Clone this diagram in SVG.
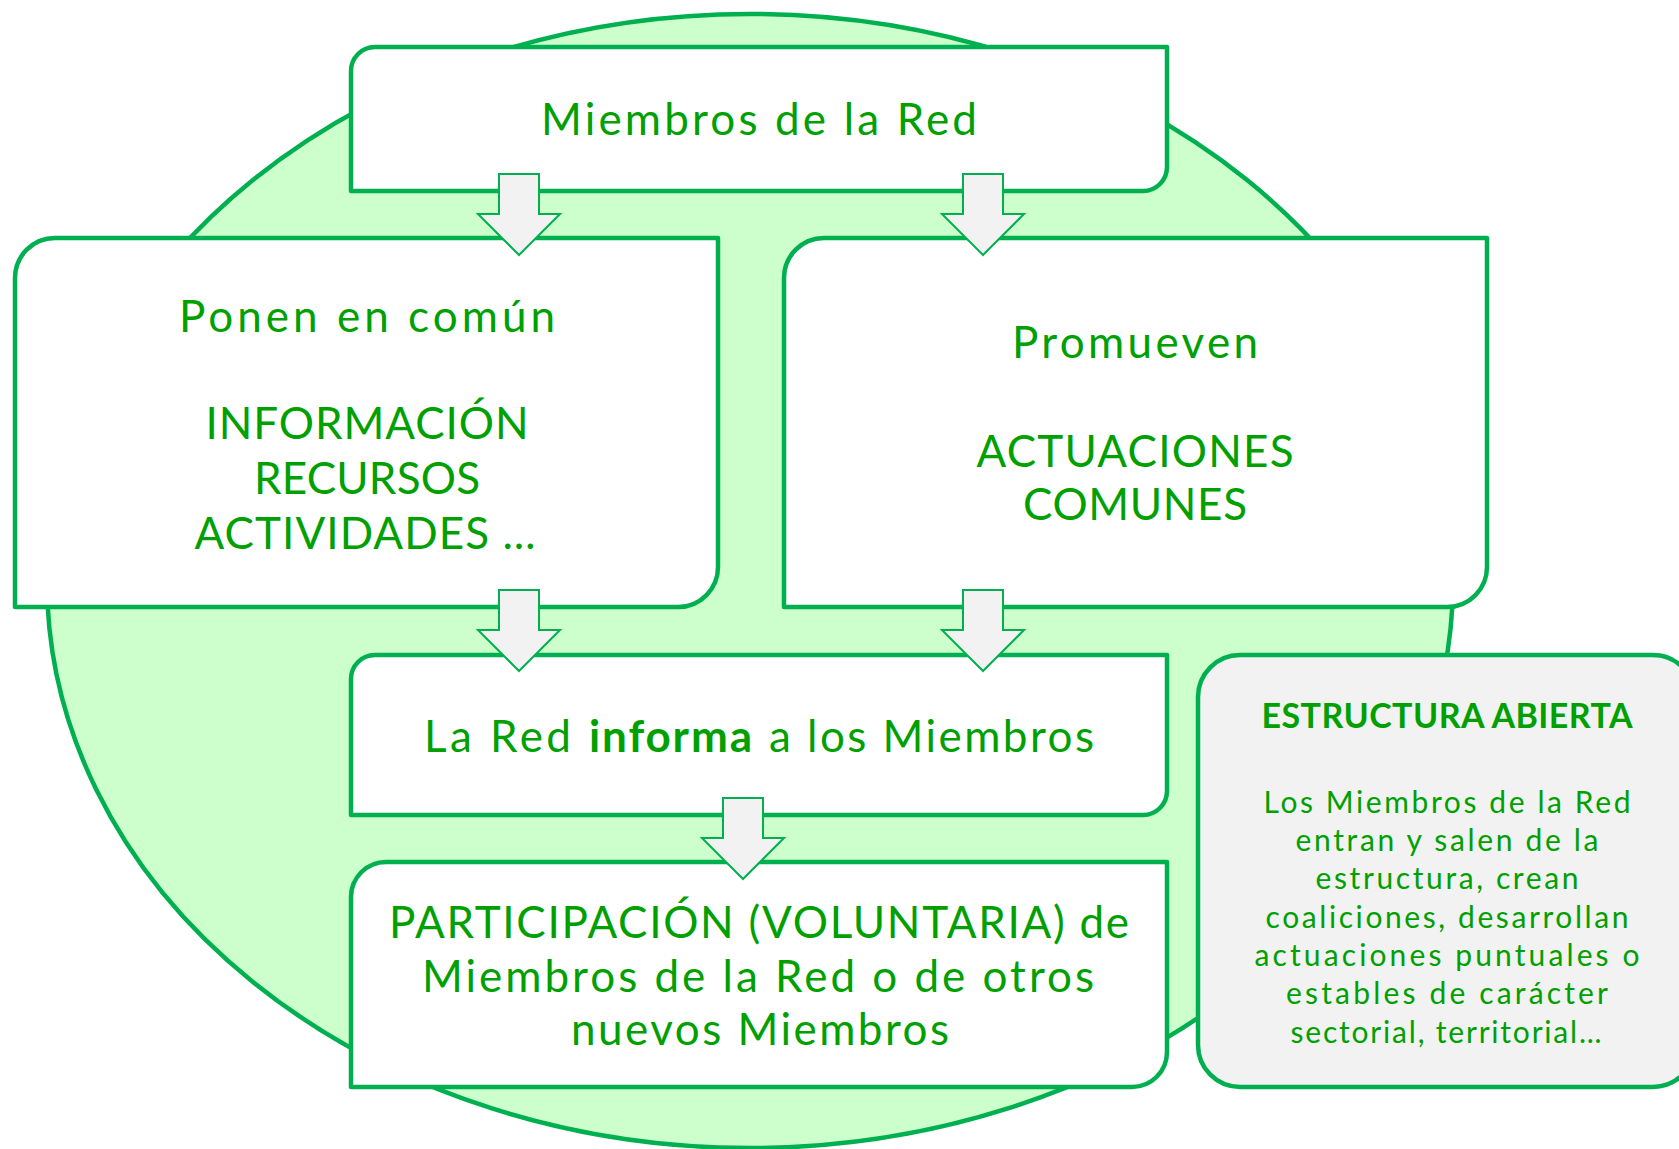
<svg xmlns="http://www.w3.org/2000/svg" width="1679" height="1149" viewBox="0 0 1679 1149">
<style>
.box{fill:#FFFFFF;stroke:#00B050;stroke-width:4.5;stroke-linejoin:round}
.gray{fill:#F2F2F2;stroke:#00B050;stroke-width:4.5}
.arrow{fill:#F2F2F2;stroke:#00B050;stroke-width:2}
.t{font-family:Lato,"Open Sans",sans-serif;fill:#00A000;font-size:44px;text-anchor:middle}
.ts{font-family:Lato,"Open Sans",sans-serif;fill:#00A000;font-size:44px}
.b{font-weight:bold}
.g{font-family:Lato,"Open Sans",sans-serif;fill:#00A000;font-size:30px;text-anchor:middle}
.gt{font-family:Lato,"Open Sans",sans-serif;fill:#00A000;font-size:34px;font-weight:bold;text-anchor:middle}
</style>
<rect x="0" y="0" width="1679" height="1149" fill="#FFFFFF"/>
<g id="background">
<ellipse cx="750" cy="581" rx="703" ry="567" fill="#CCFFCC" stroke="#00B050" stroke-width="4.5"/>
</g>
<g id="node-miembros">
<path class="box" d="M375,47 H1167 V167 A24,24 0 0 1 1143,191 H351 V71 A24,24 0 0 1 375,47 Z"/>
<text class="t" x="759" y="135" textLength="436">Miembros de la Red</text>
</g>
<g id="node-ponen">
<path class="box" d="M55,238 H718 V567 A40,40 0 0 1 678,607 H15 V278 A40,40 0 0 1 55,238 Z"/>
<text class="t" x="367" y="332" textLength="376">Ponen en común</text>
<text class="t" x="367" y="439" textLength="323">INFORMACIÓN</text>
<text class="t" x="367" y="494" textLength="226">RECURSOS</text>
<text class="t" x="365" y="549" textLength="341">ACTIVIDADES …</text>
</g>
<g id="node-promueven">
<path class="box" d="M824,238 H1487 V567 A40,40 0 0 1 1447,607 H784 V278 A40,40 0 0 1 824,238 Z"/>
<text class="t" x="1135" y="358" textLength="246">Promueven</text>
<text class="t" x="1135" y="467" textLength="317">ACTUACIONES</text>
<text class="t" x="1135" y="520" textLength="224">COMUNES</text>
</g>
<g id="node-informa">
<path class="box" d="M375,655 H1167 V791 A24,24 0 0 1 1143,815 H351 V679 A24,24 0 0 1 375,655 Z"/>
<text class="ts" x="424" y="752" textLength="147">La Red</text>
<text class="ts b" x="589" y="752" textLength="163">informa</text>
<text class="ts" x="769" y="752" textLength="325">a los Miembros</text>
</g>
<g id="node-participacion">
<path class="box" d="M386,862 H1167 V1052 A35,35 0 0 1 1132,1087 H351 V897 A35,35 0 0 1 386,862 Z"/>
<text class="t" x="759" y="938" textLength="740">PARTICIPACIÓN (VOLUNTARIA) de</text>
<text class="t" x="758" y="992" textLength="672">Miembros de la Red o de otros</text>
<text class="t" x="760" y="1045" textLength="378">nuevos Miembros</text>
</g>
<g id="node-estructura">
<rect class="gray" x="1198" y="655" width="497" height="432" rx="42" ry="42"/>
<text class="gt" x="1447" y="728" textLength="371">ESTRUCTURA ABIERTA</text>
<text class="g" x="1447" y="813" textLength="367">Los Miembros de la Red</text>
<text class="g" x="1447" y="851" textLength="303">entran y salen de la</text>
<text class="g" x="1447" y="889" textLength="263">estructura, crean</text>
<text class="g" x="1447" y="928" textLength="363">coaliciones, desarrollan</text>
<text class="g" x="1447" y="966" textLength="385">actuaciones puntuales o</text>
<text class="g" x="1447" y="1004" textLength="322">estables de carácter</text>
<text class="g" x="1446" y="1043" textLength="311">sectorial, territorial…</text>
</g>
<g id="connectors">
<polygon class="arrow" points="499,174 539,174 539,214 560,214 519,255 478,214 499,214"/>
<polygon class="arrow" points="963,174 1003,174 1003,214 1024,214 983,255 942,214 963,214"/>
<polygon class="arrow" points="499,590 539,590 539,630 560,630 519,671 478,630 499,630"/>
<polygon class="arrow" points="963,590 1003,590 1003,630 1024,630 983,671 942,630 963,630"/>
<polygon class="arrow" points="723,798 763,798 763,838 784,838 743,879 702,838 723,838"/>
</g>
</svg>
